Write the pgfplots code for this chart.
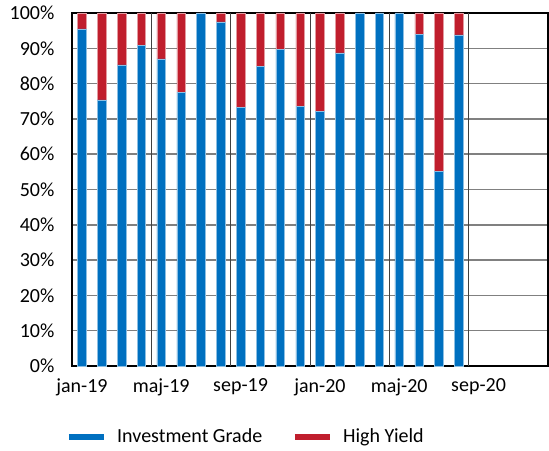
\documentclass[border=0pt]{standalone}
\usepackage{fontspec}
\setmainfont{Carlito}
\usepackage{pgfplots}
\pgfplotsset{compat=1.18}
\definecolor{igblue}{RGB}{0,112,192}
\definecolor{hyred}{RGB}{192,30,45}
\definecolor{gridgray}{RGB}{128,128,128}

\begin{document}
\fontsize{15}{18}\selectfont
\begin{tikzpicture}
\path[use as bounding box] (0,0) rectangle (411.75pt,337.5pt);
\begin{axis}[
    at={(54pt,63pt)}, anchor=south west,
    scale only axis,
    width=357pt, height=264.75pt,
    ybar stacked,
    bar width=6.4pt,
    xmin=-0.5, xmax=23.5,
    ymin=0, ymax=100,
    ytick distance=10,
    yticklabel={\pgfmathprintnumber{\tick}\%},
    xtick={0,4,8,12,16,20},
    xticklabels={jan-19,maj-19,sep-19,jan-20,maj-20,sep-20},
    extra x ticks={3.5,7.5,11.5,15.5,19.5},
    extra x tick labels={},
    extra x tick style={grid=major, major grid style={line width=0.6pt, draw=black!75}},
    ymajorgrids,
    major grid style={line width=1.1pt, draw=gridgray},
    major tick length=0pt,
    axis line style={line width=0.8pt, black},
    /pgf/number format/assume math mode=true,
    tick label style={font=\fontsize{15}{18}\selectfont},
    yticklabel style={xshift=-8pt},
    xticklabel style={yshift=-4pt},
    legend style={at={(0,0)}, anchor=west, xshift=-7.5pt, yshift=-53.25pt,
        draw=none, fill=none, font=\fontsize{15}{18}\selectfont},
    legend columns=2,
    /tikz/every even column/.append style={column sep=20.5pt},
]
\addlegendimage{legend image code/.code={\draw[line width=4pt, igblue] (0pt,0pt) -- (26pt,0pt); \path (34pt,0pt);}}
\addlegendimage{legend image code/.code={\draw[line width=4pt, hyred] (0pt,0pt) -- (26pt,0pt); \path (34pt,0pt);}}
\addplot[fill=igblue, draw=igblue!45!white, line width=0.4pt] coordinates {
(0,95.5) (1,75.4) (2,85.3) (3,90.9) (4,87.0) (5,77.6) (6,100) (7,97.5)
(8,73.2) (9,84.8) (10,89.7) (11,73.6) (12,72.2) (13,88.7) (14,100) (15,100)
(16,100) (17,93.9) (18,55.1) (19,93.8)};
\addplot[fill=hyred, draw=hyred!45!white, line width=0.4pt] coordinates {
(0,4.5) (1,24.6) (2,14.7) (3,9.1) (4,13.0) (5,22.4) (6,0) (7,2.5)
(8,26.8) (9,15.2) (10,10.3) (11,26.4) (12,27.8) (13,11.3) (14,0) (15,0)
(16,0) (17,6.1) (18,44.9) (19,6.2)};
\legend{Investment Grade, High Yield}
\end{axis}
\end{tikzpicture}
\end{document}
